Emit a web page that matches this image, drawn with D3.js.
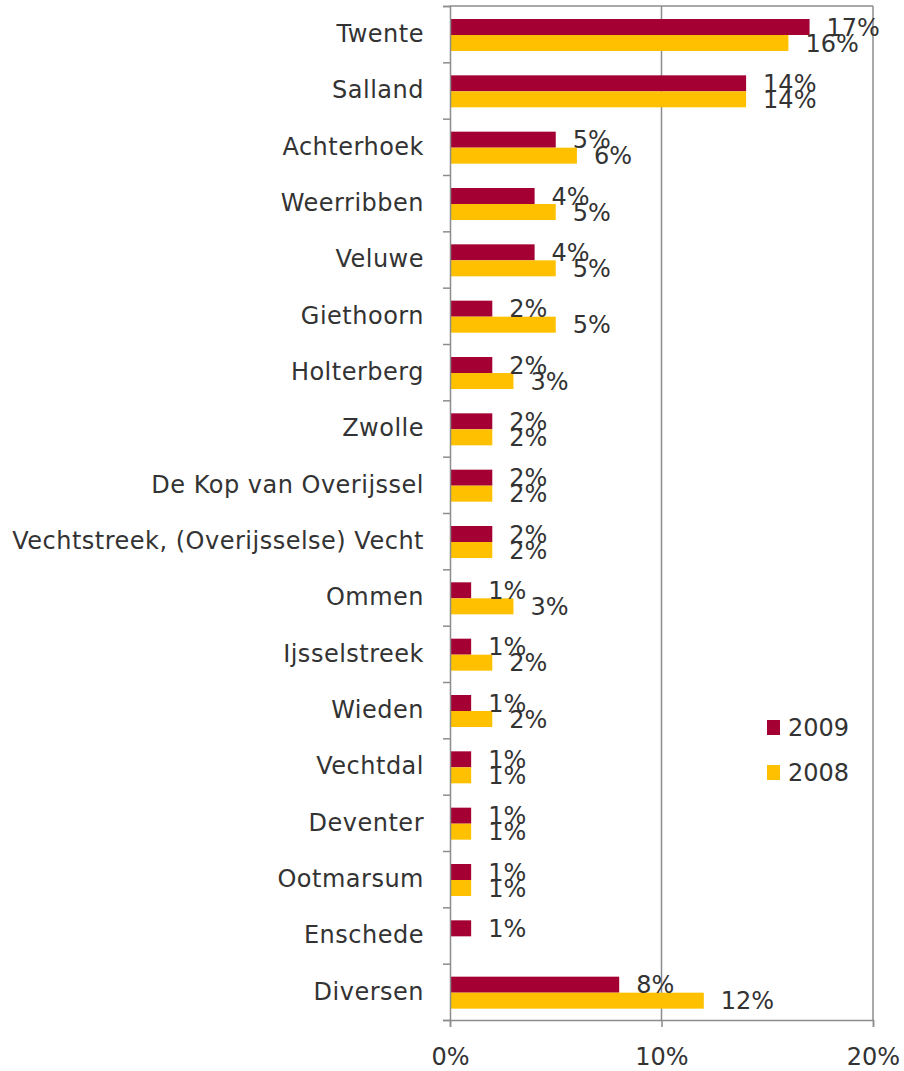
<!DOCTYPE html>
<html>
<head>
<meta charset="utf-8">
<script src="https://cdn.jsdelivr.net/npm/d3@7"></script>
<style>
  body { margin: 0; background: #fff; }
  text { font-family: "DejaVu Sans", Verdana, sans-serif; fill: #333; }
</style>
</head>
<body>
<div id="chart"></div>
<script>
// regions, top to bottom
const regions = ['Twente', 'Salland', 'Achterhoek', 'Weerribben', 'Veluwe', 'Giethoorn',
  'Holterberg', 'Zwolle', 'De Kop van Overijssel', 'Vechtstreek, (Overijsselse) Vecht',
  'Ommen', 'Ijsselstreek', 'Wieden', 'Vechtdal', 'Deventer', 'Ootmarsum', 'Enschede', 'Diversen'];
const years = ['2009', '2008'];
const values2009 = [17, 14, 5, 4, 4, 2, 2, 2, 2, 2, 1, 1, 1, 1, 1, 1, 1, 8];
const values2008 = [16, 14, 6, 5, 5, 5, 3, 2, 2, 2, 3, 2, 2, 1, 1, 1, null, 12];
const xTicks = [0, 10, 20];

const WIDTH = 904;
const HEIGHT = 1071;
const FONT = 24;
const colours = { '2009': '#a50034', '2008': '#ffc000' };
const axisGrey = '#8c8c8c';

let svg = d3.select('#chart')
  .append('svg')
  .attr('width', WIDTH)
  .attr('height', HEIGHT);

//Scales
const x = d3.scaleLinear().domain([0, 20]).range([450, 873]);
const y = d3.scaleBand().domain(regions).range([6, 1020]);
const yIdx = d3.scaleLinear().domain([0, regions.length]).range([6, 1020]);
const sub = d3.scaleBand().domain(years).range([13, 45]);

//Gridlines (10% and 20%) and top border of the plot
svg.append('g')
  .selectAll('line')
  .data(xTicks.slice(1))
  .enter()
  .append('line')
  .attr('x1', d => x(d)).attr('x2', d => x(d))
  .attr('y1', y.range()[0]).attr('y2', y.range()[1])
  .style('stroke', axisGrey).style('stroke-width', 1.5);

svg.append('line')
  .attr('x1', x(0)).attr('x2', x(20))
  .attr('y1', y.range()[0]).attr('y2', y.range()[0])
  .style('stroke', axisGrey).style('stroke-width', 1.5);

//Build rows of data
let rows = regions.map((r, i) => ({ region: r, '2009': values2009[i], '2008': values2008[i] }));
let bars = [];
rows.forEach(row => years.forEach(yr => {
  if (row[yr] != null) bars.push({ region: row.region, year: yr, value: row[yr] });
}));

//Bars
svg.append('g')
  .selectAll('rect')
  .data(bars)
  .enter()
  .append('rect')
  .attr('x', x(0))
  .attr('y', d => y(d.region) + sub(d.year))
  .attr('width', d => x(d.value) - x(0))
  .attr('height', sub.bandwidth())
  .style('fill', d => colours[d.year]);

//Data labels
svg.append('g')
  .selectAll('text')
  .data(bars)
  .enter()
  .append('text')
  .attr('x', d => x(d.value) + 17)
  .attr('y', d => y(d.region) + sub(d.year) + sub.bandwidth() / 2)
  .attr('dy', '0.36em')
  .style('font-size', FONT + 'px')
  .text(d => d.value + '%');

//Left axis: category boundary ticks
svg.append('g')
  .attr('transform', `translate(${x(0)},0)`)
  .call(d3.axisLeft(yIdx).tickValues(d3.range(regions.length + 1)).tickSize(7).tickFormat(''))
  .call(g => g.selectAll('line, path').style('stroke', axisGrey).style('stroke-width', 1.5));

//Left axis: category labels
svg.append('g')
  .attr('transform', `translate(${x(0)},0)`)
  .call(d3.axisLeft(y).tickSize(0).tickPadding(26))
  .call(g => g.select('.domain').remove())
  .call(g => g.selectAll('text').style('font-size', FONT + 'px').style('letter-spacing', '0.5px')
    .style('font-family', null).attr('fill', null));

//Bottom axis
svg.append('g')
  .attr('transform', `translate(0,${y.range()[1]})`)
  .call(d3.axisBottom(x).tickValues(xTicks).tickSize(7).tickPadding(21).tickFormat(d => d + '%'))
  .call(g => g.selectAll('line, path').style('stroke', axisGrey).style('stroke-width', 1.5))
  .call(g => g.selectAll('text').style('font-size', FONT + 'px').style('font-family', null).attr('fill', null));

//Legend
let legend = svg.append('g')
  .selectAll('g')
  .data(years)
  .enter()
  .append('g')
  .attr('transform', (d, i) => `translate(767,${720 + i * 45})`);

legend.append('rect')
  .attr('width', 13).attr('height', 15)
  .style('fill', d => colours[d]);

legend.append('text')
  .attr('x', 21).attr('y', 7.5)
  .attr('dy', '0.36em')
  .style('font-size', FONT + 'px')
  .text(d => d);
</script>
</body>
</html>
